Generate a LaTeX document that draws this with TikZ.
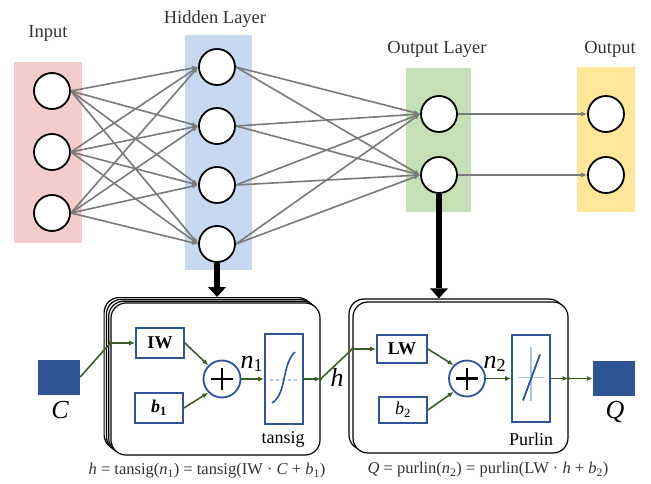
\documentclass[tikz,border=0pt]{standalone}
\usepackage{fontspec}
\setmainfont{Liberation Serif}
\usetikzlibrary{arrows.meta}
\definecolor{pinkbg}{HTML}{F4CCCC}
\definecolor{bluebg}{HTML}{C6D9F1}
\definecolor{greenbg}{HTML}{C5E0B4}
\definecolor{yellowbg}{HTML}{FFE699}
\definecolor{dblue}{HTML}{2F5597}
\definecolor{dgreen}{HTML}{3B5E2B}
\definecolor{netgray}{HTML}{7A7A7A}
\definecolor{lblgray}{HTML}{333333}
\definecolor{iconlight}{HTML}{A9C4E8}
\begin{document}
\begin{tikzpicture}[x=1pt,y=-1pt,
  layerbg/.style={fill=#1, draw=none, inner sep=0pt},
  layerlbl/.style={font=\fontsize{18.5}{20}\selectfont, text=lblgray},
  neuron/.style={circle, draw=black, line width=1.8pt, fill=white, minimum size=36pt, inner sep=0pt},
  netline/.style={draw=netgray, line width=1.6pt, -{Latex[length=6pt,width=5pt]}},
  bigarrow/.style={line width=5.5pt, -{Triangle[length=10pt,width=18pt,line width=0pt]}},
  roundbox/.style={draw=black, line width=1.2pt, rounded corners=15pt, fill=white, inner sep=0pt},
  bbox/.style={draw=dblue, line width=1.8pt, fill=white, inner sep=0pt},
  sumnode/.style={circle, draw=dblue, line width=1.8pt, fill=white, minimum size=37pt, inner sep=0pt},
  plusline/.style={line width=2.6pt, black},
  garrow/.style={draw=dgreen, line width=1.6pt, -{Latex[length=6pt,width=5pt]}},
  gline/.style={draw=dgreen, line width=1.6pt},
  sq/.style={fill=dblue, draw=none, minimum width=42pt, minimum height=35pt, inner sep=0pt},
  itlbl/.style={font=\itshape\fontsize{26}{26}\selectfont},
  funclbl/.style={font=\fontsize{18}{18}\selectfont},
  formula/.style={font=\fontsize{16.5}{16.5}\selectfont, text=lblgray}
]
\useasboundingbox (0,0) rectangle (651,484);

% layer backgrounds
\node[layerbg=pinkbg, minimum width=68pt, minimum height=181pt] (inbg) at (48,152.5) {};
\node[layerbg=bluebg, minimum width=67pt, minimum height=235pt] (hidbg) at (218.5,152.5) {};
\node[layerbg=greenbg, minimum width=65pt, minimum height=144pt] (olbg) at (438.5,140) {};
\node[layerbg=yellowbg, minimum width=58pt, minimum height=145pt] (outbg) at (606,139.5) {};

% labels
\node[layerlbl] (linput) at (48,33) {Input};
\node[layerlbl] (lhidden) at (215,19) {Hidden Layer};
\node[layerlbl] (lol) at (437,49) {Output Layer};
\node[layerlbl] (lout) at (610,49) {Output};

% neurons
\foreach \i/\y in {1/91,2/152,3/213} \node[neuron] (i\i) at (52,\y) {};
\foreach \i/\y in {1/67,2/126,3/185,4/244} \node[neuron] (h\i) at (217,\y) {};
\node[neuron] (o1) at (439,114) {};
\node[neuron] (o2) at (439,175) {};
\node[neuron] (q1) at (606,114) {};
\node[neuron] (q2) at (606,175) {};

% connections
\foreach \a in {1,2,3} \foreach \b in {1,2,3,4} \draw[netline] (i\a.east) -- (h\b.west);
\foreach \a in {1,2,3,4} \foreach \b in {1,2} \draw[netline] (h\a.east) -- (o\b.west);
\draw[netline] (o1.east) -- (q1.west);
\draw[netline] (o2.east) -- (q2.west);

% left block (stacked)
\foreach \k in {3,2,1}
  \node[roundbox, minimum width=209pt, minimum height=152pt] (ls\k) at (215.5-2.3*\k,379-1.8*\k) {};
\node[roundbox, minimum width=209pt, minimum height=152pt] (lbox) at (215.5,379) {};

% right block (double)
\node[roundbox, minimum width=215pt, minimum height=151pt] (rs1) at (456.5,374.5) {};
\node[roundbox, minimum width=215pt, minimum height=151pt] (rbox) at (460.5,377.5) {};

% thick arrows
\draw[bigarrow] (h4.south) -- (h4.south |- ls3.north);
\draw[bigarrow] (o2.south) -- (o2.south |- rs1.north);

% input / output squares
\node[sq] (Csq) at (59,377) {};
\node[itlbl] (Clbl) at (60,410) {C};
\node[sq] (Qsq) at (614,378.5) {};
\node[itlbl] (Qlbl) at (615,412) {Q};

% left block content
\node[bbox, minimum width=48pt, minimum height=30pt, font=\bfseries\fontsize{18}{18}\selectfont] (IW) at (160,343) {IW};
\node[bbox, minimum width=48pt, minimum height=30pt, font=\fontsize{18}{18}\selectfont] (b1) at (159,408) {\textbf{\textit{b}}\textsubscript{\textbf{1}}};
\node[sumnode] (s1) at (222,379) {};
\draw[plusline] ([xshift=-11pt]s1.center) -- ([xshift=11pt]s1.center);
\draw[plusline] ([yshift=-11pt]s1.center) -- ([yshift=11pt]s1.center);
\node[bbox, minimum width=38pt, minimum height=90pt] (tsg) at (284,379) {};
\begin{scope}[shift={(tsg.center)}]
  \draw[iconlight, line width=1.5pt, dashed] (-14,1) -- (14,1);
  \draw[dblue, line width=1.6pt] (-12,24) .. controls (-5,20) and (-2,10) .. (0,0) .. controls (2,-10) and (5,-22) .. (11,-27);
\end{scope}
\node[funclbl] (tsglbl) at (283,439) {tansig};
\node[itlbl] (n1lbl) at (252,364) {n\textsubscript{\upshape 1}};

% right block content
\node[bbox, minimum width=50pt, minimum height=28pt, font=\bfseries\fontsize{18}{18}\selectfont] (LW) at (402,349) {LW};
\node[bbox, minimum width=48pt, minimum height=26pt, font=\fontsize{18}{18}\selectfont] (b2) at (403,410) {\textit{b}\textsubscript{2}};
\node[sumnode, minimum size=36pt] (s2) at (467,378.5) {};
\draw[plusline] ([xshift=-11pt]s2.center) -- ([xshift=11pt]s2.center);
\draw[plusline] ([yshift=-11pt]s2.center) -- ([yshift=11pt]s2.center);
\node[bbox, minimum width=38pt, minimum height=87pt] (pur) at (531,378.5) {};
\begin{scope}[shift={(pur.center)}]
  \draw[iconlight, line width=1.3pt] (-13,-1) -- (13,-1);
  \draw[iconlight, line width=1.3pt] (0,-32) -- (0,22);
  \draw[dblue, line width=1.8pt] (-8,22) -- (9,-24);
\end{scope}
\node[funclbl] (purlbl) at (531,439) {Purlin};
\node[itlbl] (n2lbl) at (495,364) {n\textsubscript{\upshape 2}};
\node[itlbl] (hlbl) at (337,377) {h};

% junctions
\coordinate (j1) at (lbox.west |- IW.west);
\coordinate (j2) at (lbox.east |- tsg.east);
\coordinate (j3) at (rbox.west |- LW.west);
\coordinate (j4) at (rbox.east |- pur.east);

% green connectors
\draw[gline] (Csq.east) -- (j1);
\draw[garrow] (j1) -- (IW.west);
\draw[garrow] (IW.east) -- (s1.north west);
\draw[garrow] (b1.east) -- (s1.south west);
\draw[garrow] (s1.east) -- (tsg.west);
\draw[garrow] (tsg.east) -- (j2);
\draw[gline] (j2) -- (j3);
\draw[garrow] (j3) -- (LW.west);
\draw[garrow] (LW.east) -- (s2.north west);
\draw[garrow] (b2.east) -- (s2.south west);
\draw[garrow] (s2.east) -- (pur.west);
\draw[garrow] (pur.east) -- (j4);
\draw[garrow] (j4) -- (Qsq.west);
\foreach \j in {j1,j2,j3,j4} \fill[dgreen] (\j) circle (1.8);

% formulas
\node[formula] (f1) at (207,471) {\textit{h} = tansig(\textit{n}\textsubscript{1}) = tansig(IW · \textit{C} + \textit{b}\textsubscript{1})};
\node[formula] (f2) at (488,470) {\textit{Q} = purlin(\textit{n}\textsubscript{2}) = purlin(LW · \textit{h} + \textit{b}\textsubscript{2})};
\end{tikzpicture}
\end{document}
